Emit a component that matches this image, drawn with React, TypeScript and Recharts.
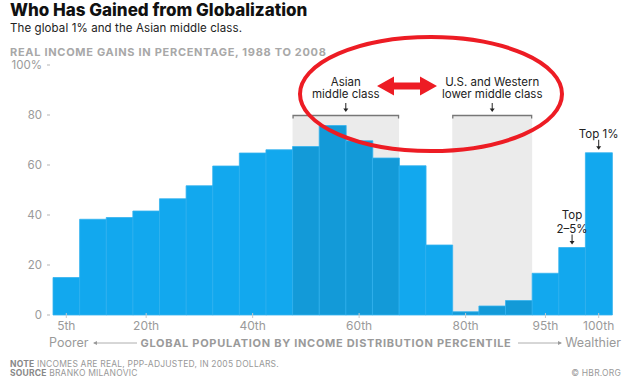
import { BarChart, Bar, XAxis, YAxis, Cell, ReferenceArea, ReferenceDot } from 'recharts';

const percentiles = [
  '5th', '10th', '15th', '20th', '25th', '30th', '35th', '40th', '45th', '50th', '55th',
  '60th', '65th', '70th', '75th', '80th', '85th', '90th', '95th', '99th', '100th',
];
const gains = [15, 38.3, 39, 41.6, 46.5, 51.7, 59.6, 64.8, 66.1, 67.4, 75.8, 69.7, 62.8, 59.7, 28, 1.3, 3.6, 5.8, 16.7, 27, 64.9];
const labeledTicks = ['5th', '20th', '40th', '60th', '80th', '95th', '100th'];
const yTicks = [0, 20, 40, 60, 80, 100];
const asianGroup = ['50th', '55th', '60th', '65th'];
const westernGroup = ['80th', '85th', '90th'];

const BLUE = '#12a8ee';
const DARK_BLUE = '#139ad8';
const RED = '#ed1c24';
const FONT = 'Inter, "Noto Sans", sans-serif';

const data = percentiles.map((p, i) => ({ p, gain: gains[i] }));

const YTick = ({ x, y, payload }: any) => (
  <g>
    <text x={x - 11} y={y} dy={4} textAnchor="end" fontSize={11.5} fill="#9a9a9a">
      {payload.value === 100 ? '100%' : payload.value}
    </text>
    <line x1={x - 6} x2={x - 3} y1={y} y2={y} stroke="#b5b5b5" />
  </g>
);

const XTick = ({ x, y, payload }: any) => {
  if (!labeledTicks.includes(payload.value)) return null;
  return (
    <g>
      <line x1={x} x2={x} y1={y - 2} y2={y + 3} stroke="#c8c8c8" />
      <text x={x} y={y + 15} textAnchor="middle" fontSize={12} fill="#9a9a9a">
        {payload.value}
      </text>
    </g>
  );
};

const DownArrow = ({ x, y1, y2 }: { x: number; y1: number; y2: number }) => (
  <g>
    <line x1={x} x2={x} y1={y1} y2={y2 - 2} stroke="#222" strokeWidth={1} />
    <path d={`M${x - 2.5},${y2 - 3.5} L${x},${y2} L${x + 2.5},${y2 - 3.5} Z`} fill="#222" />
  </g>
);

const zoneShape = (lines: string[]) => (props: any) => {
  const { x, y, width, height } = props;
  const cx = x + width / 2;
  return (
    <g>
      <rect x={x} y={y} width={width} height={height} fill="#ebebeb" />
      <path d={`M${x + 0.5},${y + 3.5} V${y + 0.5} H${x + width - 0.5} V${y + 3.5}`} stroke="#777" strokeWidth={1.3} fill="none" />
      {lines.map((l, i) => (
        <text key={i} x={cx} y={y - 29.5 + i * 12.5} textAnchor="middle" fontSize={11.5} fill="#222">
          {l}
        </text>
      ))}
      <DownArrow x={cx} y1={y - 12} y2={y - 3} />
    </g>
  );
};

const topShape = (lines: string[]) => (props: any) => {
  const { cx, cy } = props;
  const n = lines.length;
  return (
    <g>
      {lines.map((l, i) => (
        <text key={i} x={cx} y={cy - 15 - (n - 1 - i) * 14} textAnchor="middle" fontSize={11.5} fill="#222">
          {l}
        </text>
      ))}
      <DownArrow x={cx} y1={cy - 13} y2={cy - 3} />
    </g>
  );
};

export default function App() {
  return (
    <div style={{ position: 'absolute', left: 0, top: 0, width: 630, height: 382, background: '#fff', fontFamily: FONT }}>
      <BarChart
        width={630}
        height={382}
        data={data}
        barCategoryGap={0}
        margin={{ top: 65, right: 18, left: 0, bottom: 47 }}
      >
        <XAxis
          dataKey="p"
          interval={0}
          height={20}
          axisLine={false}
          tickLine={false}
          tickSize={0}
          tickMargin={0}
          tick={<XTick />}
        />
        <YAxis
          domain={[0, 100]}
          ticks={yTicks}
          width={53}
          axisLine={false}
          tickLine={false}
          tickSize={0}
          tickMargin={0}
          tick={<YTick />}
        />
        <ReferenceArea
          x1={asianGroup[0]}
          x2={asianGroup[asianGroup.length - 1]}
          y1={0}
          y2={80}
          shape={zoneShape(['Asian', 'middle class'])}
        />
        <ReferenceArea
          x1={westernGroup[0]}
          x2={westernGroup[westernGroup.length - 1]}
          y1={0}
          y2={80}
          shape={zoneShape(['U.S. and Western', 'lower middle class'])}
        />
        <Bar dataKey="gain" isAnimationActive={false} stroke="#35b3ef" strokeWidth={0.8}>
          {data.map((d, i) => (
            <Cell
              key={`cell-${i}`}
              fill={asianGroup.includes(d.p) || westernGroup.includes(d.p) ? DARK_BLUE : BLUE}
            />
          ))}
        </Bar>
        <ReferenceDot x="99th" y={gains[19]} r={0} shape={topShape(['Top', '2–5%'])} />
        <ReferenceDot x="100th" y={gains[20]} r={0} shape={topShape(['Top 1%'])} />
      </BarChart>

      <svg width={630} height={382} style={{ position: 'absolute', left: 0, top: 0, pointerEvents: 'none' }}>
        <text x={10} y={16} fontSize={17} fontWeight={800} fill="#111">Who Has Gained from Globalization</text>
        <text x={10} y={31.5} fontSize={11.5} letterSpacing={0.1} fill="#222">The global 1% and the Asian middle class.</text>
        <text x={10} y={56} fontSize={11} fontWeight={700} letterSpacing={0.7} fill="#a8a8a8">
          REAL INCOME GAINS IN PERCENTAGE, 1988 TO 2008
        </text>

        <text x={49} y={347} fontSize={12.5} fill="#9a9a9a">Poorer</text>
        <line x1={94} x2={137} y1={343} y2={343} stroke="#9a9a9a" strokeWidth={0.8} />
        <path d="M93,343 L97,341 L97,345 Z" fill="#9a9a9a" />
        <text x={326} y={347} textAnchor="middle" fontSize={11} fontWeight={700} letterSpacing={0.7} fill="#9a9a9a">
          GLOBAL POPULATION BY INCOME DISTRIBUTION PERCENTILE
        </text>
        <line x1={518} x2={561} y1={343} y2={343} stroke="#9a9a9a" strokeWidth={0.8} />
        <path d="M562,343 L558,341 L558,345 Z" fill="#9a9a9a" />
        <text x={621} y={347} textAnchor="end" fontSize={12.5} fill="#9a9a9a">Wealthier</text>

        <text x={10} y={366.5} fontSize={8.5} letterSpacing={0.2} fill="#999">
          <tspan fontWeight={700} fill="#888">NOTE</tspan> INCOMES ARE REAL, PPP-ADJUSTED, IN 2005 DOLLARS.
        </text>
        <text x={10} y={376} fontSize={8.5} letterSpacing={0.2} fill="#999">
          <tspan fontWeight={700} fill="#888">SOURCE</tspan> BRANKO MILANOVIC
        </text>
        <text x={621} y={376} textAnchor="end" fontSize={8.5} letterSpacing={0.2} fill="#999">© HBR.ORG</text>

        <ellipse cx={431} cy={94} rx={131} ry={57} fill="none" stroke={RED} strokeWidth={4} />
        <path
          d="M377,86 L394,76.5 L394,82.5 L420,82.5 L420,76.5 L437,86 L420,95.5 L420,89.5 L394,89.5 L394,95.5 Z"
          fill={RED}
        />
      </svg>
    </div>
  );
}
